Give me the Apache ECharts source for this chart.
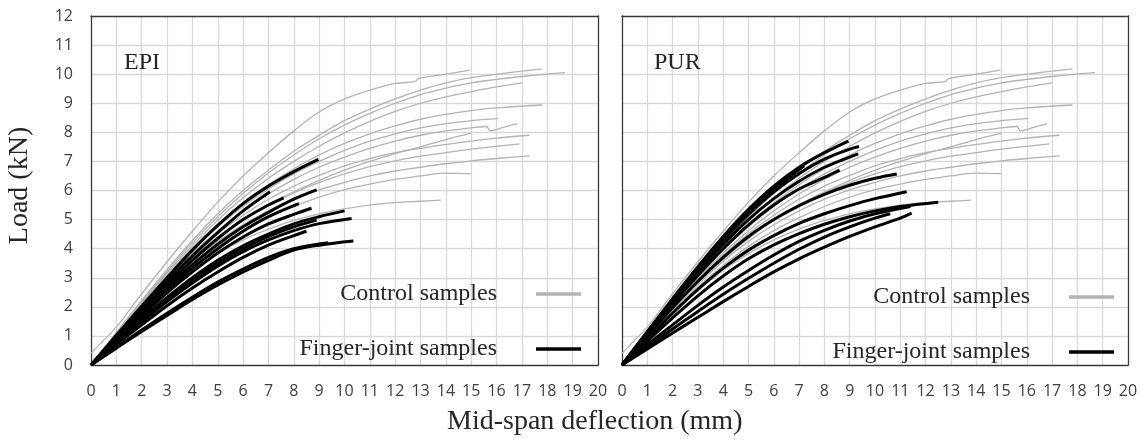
<!DOCTYPE html>
<html>
<head>
<meta charset="utf-8">
<script src="https://cdn.jsdelivr.net/npm/echarts@6/dist/echarts.min.js"></script>
<style>html,body{margin:0;padding:0;background:#fff;}#c{width:1143px;height:442px;}</style>
</head>
<body>
<div id="c"></div>
<script>
// ---- tick labels ----
const xTicks = [0,1,2,3,4,5,6,7,8,9,10,11,12,13,14,15,16,17,18,19,20];
const yTicks = [0,1,2,3,4,5,6,7,8,9,10,11,12];
const panelNames = ['EPI','PUR'];
const legendNames = ['Control samples','Finger-joint samples'];

// ---- control samples (same in both panels): [deflection mm, load kN] ----
const ctrl1 = [[0,0.4],[0.5,0.85],[1,1.3],[2,2.45],[3,3.55],[4,4.6],[5,5.6],[6,6.5],[7,7.3],[8,8.05],[9,8.7],[10,9.15],[11,9.45],[12,9.68],[12.8,9.75],[12.9,9.85],[14,10.0],[14.95,10.14]];
const ctrl2 = [[0,0],[1,1.12],[2,2.22],[3,3.28],[4,4.28],[5,5.2],[6,6.0],[7,6.7],[8,7.35],[9,7.9],[10,8.4],[11,8.8],[12,9.15],[13,9.45],[14,9.7],[15,9.88],[16.5,10.05],[17.8,10.18]];
const ctrl3 = [[0,0],[1,1.1],[2,2.18],[3,3.22],[4,4.2],[5,5.1],[6,5.9],[7,6.6],[8,7.22],[9,7.78],[10,8.25],[11,8.65],[12,9.0],[13,9.3],[14,9.52],[15,9.7],[16,9.82],[17,9.92],[18.7,10.05]];
const ctrl4 = [[0,0],[1,1.08],[2,2.14],[3,3.16],[4,4.1],[5,4.98],[6,5.75],[7,6.42],[8,7.0],[9,7.52],[10,7.98],[11,8.38],[12,8.72],[13,9.0],[14,9.22],[15,9.4],[16,9.56],[17,9.7]];
const ctrl5 = [[0,0],[1,1.06],[2,2.1],[3,3.1],[4,4.02],[5,4.85],[6,5.58],[7,6.2],[8,6.75],[9,7.22],[10,7.62],[11,7.95],[12,8.22],[13,8.45],[14,8.62],[15,8.75],[16,8.84],[17.8,8.94]];
const ctrl6 = [[0,0],[1,1.05],[2,2.07],[3,3.05],[4,3.95],[5,4.75],[6,5.45],[7,6.05],[8,6.57],[9,7.0],[10,7.38],[11,7.7],[12,7.95],[13,8.15],[14,8.3],[15,8.4],[16.06,8.48]];
const ctrl7 = [[0,0],[1,1.02],[2,2.02],[3,2.98],[4,3.85],[5,4.62],[6,5.3],[7,5.88],[8,6.38],[9,6.8],[10,7.15],[11,7.45],[12,7.7],[13,7.9],[14,8.05],[15,8.15],[15.6,8.2],[15.75,8.05],[16.2,8.15],[16.8,8.3]];
const ctrl8 = [[0,0],[1,1.0],[2,1.98],[3,2.92],[4,3.78],[5,4.52],[6,5.15],[7,5.7],[8,6.15],[9,6.52],[10,6.85],[11,7.1],[12,7.3],[13,7.45],[14,7.58],[15,7.7],[16,7.8],[17.3,7.9]];
const ctrl9 = [[0,0],[1,0.98],[2,1.93],[3,2.85],[4,3.68],[5,4.4],[6,5.0],[7,5.5],[8,5.92],[9,6.27],[10,6.57],[11,6.82],[12,7.02],[13,7.18],[14,7.3],[15,7.42],[16,7.52],[16.9,7.6]];
const ctrl10 = [[0,0],[1,0.95],[2,1.88],[3,2.77],[4,3.57],[5,4.25],[6,4.82],[7,5.3],[8,5.7],[9,6.02],[10,6.28],[11,6.5],[12,6.67],[13,6.8],[14,6.92],[15,7.02],[16,7.1],[17.3,7.19]];
const ctrl11 = [[0,0],[1,0.93],[2,1.83],[3,2.68],[4,3.43],[5,4.08],[6,4.62],[7,5.07],[8,5.45],[9,5.77],[10,6.03],[11,6.22],[12,6.38],[13,6.5],[13.9,6.6],[14.98,6.58]];
const ctrl12 = [[0,0],[1,0.9],[2,1.76],[3,2.55],[4,3.25],[5,3.83],[6,4.3],[7,4.67],[8,4.97],[9,5.2],[10,5.37],[11,5.5],[12,5.58],[13,5.63],[13.8,5.67]];
const ctrl13 = [[0,0],[1,0.97],[2,1.92],[3,2.82],[4,3.63],[5,4.35],[6,4.97],[7,5.5],[8,5.95],[9,6.35],[10,6.7],[11,7.0],[12,7.27],[13,7.5],[14,7.75],[15,7.97]];

// ---- EPI finger-joint samples ----
const epi1 = [[0,0],[1,1.02],[2,2.02],[3,3.0],[4,3.95],[5,4.8],[6,5.55],[7,6.15],[8,6.65],[8.97,7.07]];
const epi2 = [[0,0],[1,0.98],[2,1.95],[3,2.88],[4,3.75],[5,4.55],[6,5.3],[7.06,5.96]];
const epi3 = [[0,0],[1,0.92],[2,1.82],[3,2.68],[4,3.45],[5,4.15],[6,4.75],[7,5.25],[8,5.7],[8.9,6.02]];
const epi4 = [[0,0],[1,0.85],[2,1.68],[3,2.48],[4,3.2],[5,3.85],[6,4.4],[7,4.85],[8,5.18],[8.7,5.39]];
const epi5 = [[0,0],[1,0.8],[2,1.58],[3,2.32],[4,3.0],[5,3.6],[6,4.1],[7,4.5],[8,4.85],[9,5.1],[10,5.3]];
const epi6 = [[0,0],[1,0.75],[2,1.48],[3,2.18],[4,2.82],[5,3.4],[6,3.9],[7,4.3],[8,4.62],[9,4.86],[10.28,5.04]];
const epi7 = [[0,0],[1,0.6],[2,1.2],[3,1.78],[4,2.33],[5,2.85],[6,3.3],[7,3.7],[8,4.0],[9.36,4.2]];
const epi8 = [[0,0],[1,0.58],[2,1.15],[3,1.7],[4,2.25],[5,2.75],[6,3.2],[7,3.6],[8,3.95],[9,4.12],[10.35,4.26]];
const epi9 = [[0,0],[1,0.95],[2,1.88],[3,2.78],[4,3.6],[5,4.35],[6,5.0],[7,5.5],[7.6,5.75]];
const epi10 = [[0,0],[1,0.88],[2,1.75],[3,2.58],[4,3.33],[5,4.0],[6,4.6],[7,5.1],[8.2,5.55]];
const epi11 = [[0,0],[1,0.78],[2,1.54],[3,2.26],[4,2.92],[5,3.5],[6,4.0],[7,4.42],[8,4.75],[8.9,4.98]];
const epi12 = [[0,0],[1,0.7],[2,1.38],[3,2.04],[4,2.65],[5,3.2],[6,3.7],[7,4.12],[8,4.45],[8.5,4.6]];

// ---- PUR finger-joint samples ----
const pur1 = [[0,0],[1,1.15],[2,2.28],[3,3.38],[4,4.42],[5,5.35],[6,6.15],[7,6.8],[8,7.3],[8.95,7.7]];
const pur2 = [[0,0],[1,1.12],[2,2.22],[3,3.28],[4,4.28],[5,5.18],[6,5.95],[7,6.58],[8,7.08],[9,7.42],[9.37,7.51]];
const pur3 = [[0,0],[1,1.1],[2,2.17],[3,3.2],[4,4.15],[5,5.0],[6,5.72],[7,6.32],[8,6.8],[9,7.15],[9.34,7.26]];
const pur4 = [[0,0],[1,1.0],[2,1.97],[3,2.88],[4,3.7],[5,4.42],[6,5.0],[7,5.48],[8,5.87],[9,6.18],[10,6.42],[10.86,6.57]];
const pur5 = [[0,0],[1,0.9],[2,1.78],[3,2.6],[4,3.33],[5,3.95],[6,4.45],[7,4.87],[8,5.2],[9,5.48],[10,5.72],[11.25,5.96]];
const pur6 = [[0,0],[1,0.82],[2,1.62],[3,2.38],[4,3.06],[5,3.65],[6,4.13],[7,4.52],[8,4.84],[9,5.1],[10,5.3],[11,5.45],[12.5,5.6]];
const pur7 = [[0,0],[1,0.55],[2,1.1],[3,1.64],[4,2.18],[5,2.7],[6,3.2],[7,3.65],[8,4.05],[9,4.42],[10,4.75],[11,5.05],[11.45,5.22]];
const pur8 = [[0,0],[1,0.7],[2,1.38],[3,2.05],[4,2.68],[5,3.25],[6,3.78],[7,4.25],[8,4.63],[9,4.95],[10,5.2],[11.4,5.45]];
const pur9 = [[0,0],[1,0.62],[2,1.24],[3,1.84],[4,2.43],[5,2.98],[6,3.5],[7,3.98],[8,4.4],[9,4.75],[10,5.05],[10.6,5.2]];
const pur10 = [[0,0],[1,1.13],[2,2.25],[3,3.33],[4,4.35],[5,5.28],[6,6.05],[7.2,6.85]];
const pur11 = [[0,0],[1,1.06],[2,2.1],[3,3.08],[4,4.0],[5,4.82],[6,5.5],[7,6.05],[8,6.45],[8.6,6.7]];

const controlCurves = [ctrl1,ctrl2,ctrl3,ctrl4,ctrl5,ctrl6,ctrl7,ctrl8,ctrl9,ctrl10,ctrl11,ctrl12,ctrl13];
const epiCurves = [epi1,epi2,epi3,epi4,epi5,epi6,epi7,epi8,epi9,epi10,epi11,epi12];
const purCurves = [pur1,pur2,pur3,pur4,pur5,pur6,pur7,pur8,pur9,pur10,pur11];

const GRAY = '#b3b3b3';
const BLACK = '#000000';
const SERIF = "'Liberation Serif','DejaVu Serif',serif";
const SANS = "'Open Sans','Noto Sans',sans-serif";

const grids = [
  {left: 91, top: 16, width: 507, height: 349},
  {left: 622, top: 16, width: 506, height: 349}
];

const xAxes = [], yAxes = [];
for (let g = 0; g < 2; g++) {
  xAxes.push({
    gridIndex: g, type: 'value', min: xTicks[0], max: xTicks[xTicks.length-1], interval: 1,
    axisLine: {show: true, onZero: false, lineStyle: {color: '#3a3a3a', width: 1.3}},
    axisTick: {show: false},
    axisLabel: {color: '#404040', fontSize: 16, fontFamily: SANS, margin: 18},
    splitLine: {show: true, showMinLine: false, showMaxLine: false, lineStyle: {color: '#d9d9d9', width: 1.3}}
  });
  xAxes.push({
    gridIndex: g, type: 'value', position: 'top', min: xTicks[0], max: xTicks[xTicks.length-1], interval: 1,
    axisLine: {show: true, onZero: false, lineStyle: {color: '#3a3a3a', width: 1.3}},
    axisTick: {show: false}, axisLabel: {show: false}, splitLine: {show: false}
  });
  yAxes.push({
    gridIndex: g, type: 'value', min: yTicks[0], max: yTicks[yTicks.length-1], interval: 1,
    axisLine: {show: true, onZero: false, lineStyle: {color: '#3a3a3a', width: 1.3}},
    axisTick: {show: false},
    axisLabel: {show: g === 0, color: '#404040', fontSize: 16, fontFamily: SANS, margin: 18},
    splitLine: {show: true, showMinLine: false, showMaxLine: false, lineStyle: {color: '#d9d9d9', width: 1.3}},
    name: g === 0 ? 'Load (kN)' : '', nameLocation: 'middle', nameGap: 57,
    nameTextStyle: {fontFamily: SERIF, fontSize: 28, color: '#262626', padding: [0, 0, 0, 10]}
  });
  yAxes.push({
    gridIndex: g, type: 'value', position: 'right', min: yTicks[0], max: yTicks[yTicks.length-1], interval: 1,
    axisLine: {show: true, onZero: false, lineStyle: {color: '#3a3a3a', width: 1.3}},
    axisTick: {show: false}, axisLabel: {show: false}, splitLine: {show: false}
  });
}

const series = [];
function addCurves(curves, name, color, width, panel, z) {
  curves.forEach(c => series.push({
    type: 'line', name: name, data: c, xAxisIndex: panel*2, yAxisIndex: panel*2,
    showSymbol: false, symbol: 'none', smooth: 0.35, z: z, silent: true,
    lineStyle: {color: color, width: width}, itemStyle: {color: color}
  }));
}
for (let p = 0; p < 2; p++) addCurves(controlCurves, legendNames[0], GRAY, 1.3, p, 2);
addCurves(epiCurves, legendNames[1], BLACK, 3, 0, 3);
addCurves(purCurves, legendNames[1], BLACK, 3, 1, 3);

function makeLegend(right, top) {
  return {
    orient: 'vertical', right: right, top: top, align: 'right', padding: 0,
    itemWidth: 45, itemHeight: 3.5, itemGap: 31, icon: 'rect',
    selectedMode: false,
    data: legendNames.map((n, i) => ({name: n, itemStyle: {color: i === 0 ? GRAY : BLACK}})),
    formatter: '{a|{name}}',
    textStyle: {rich: {a: {fontFamily: SERIF, fontSize: 24, color: '#262626', width: 230, align: 'right', padding: [0, 34, 0, 0], lineHeight: 24}}}
  };
}

const option = {
  animation: false,
  backgroundColor: '#ffffff',
  grid: grids,
  xAxis: xAxes,
  yAxis: yAxes,
  title: [
    {text: panelNames[0], left: 119, top: 46, textStyle: {fontFamily: SERIF, fontSize: 24, fontWeight: 'normal', color: '#262626'}},
    {text: panelNames[1], left: 649, top: 46, textStyle: {fontFamily: SERIF, fontSize: 24, fontWeight: 'normal', color: '#262626'}},
    {text: 'Mid-span deflection (mm)', left: 442, top: 403, textStyle: {fontFamily: SERIF, fontSize: 28, fontWeight: 'normal', color: '#262626'}}
  ],
  legend: [makeLegend(1143 - 581, 282), makeLegend(1143 - 1114, 285)],
  series: series
};

const chart = echarts.init(document.getElementById('c'), null, {renderer: 'canvas'});
chart.setOption(option);
</script>
</body>
</html>
